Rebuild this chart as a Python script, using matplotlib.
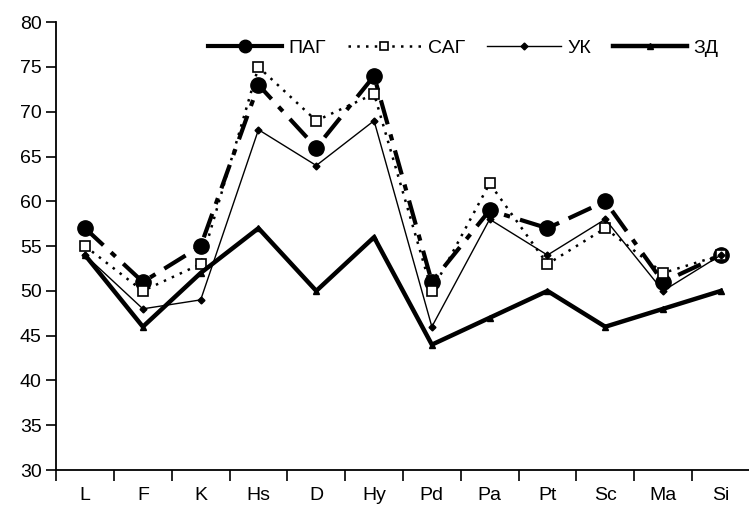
import matplotlib

matplotlib.use("Agg")
import matplotlib.pyplot as plt
import numpy as np
from matplotlib.lines import Line2D

plt.rcParams["font.family"] = ["Liberation Sans", "DejaVu Sans"]

categories = ["L", "F", "K", "Hs", "D", "Hy", "Pd", "Pa", "Pt", "Sc", "Ma", "Si"]
pag = [57, 51, 55, 73, 66, 74, 51, 59, 57, 60, 51, 54]
sag = [55, 50, 53, 75, 69, 72, 50, 62, 53, 57, 52, 54]
uk = [54, 48, 49, 68, 64, 69, 46, 58, 54, 58, 50, 54]
zd = [54, 46, 52, 57, 50, 56, 44, 47, 50, 46, 48, 50]

fig = plt.figure(figsize=(7.49, 5.16), dpi=100)
ax = fig.add_axes([0.075, 0.089, 0.926, 0.868])

x = np.arange(len(categories))
ax.plot(x, pag, color="black", lw=3, ls=(0, (6, 2.5, 1.5, 2.5)), marker="o",
        ms=11)
ax.plot(x, sag, color="black", lw=1.8, ls=(0, (1, 2.5)), marker="s", ms=7,
        mfc="white", mec="black", mew=1.2)
ax.plot(x, uk, color="black", lw=1.0, marker="D", ms=3.5)
ax.plot(x, zd, color="black", lw=3.2, marker="^", ms=4)

# легенда: короткие образцы линий как в оригинале
handles = [
    Line2D([], [], color="black", lw=3, marker="o", ms=9),
    Line2D([], [], color="black", lw=1.8, ls=(0, (1, 2.5)), marker="s", ms=6,
           mfc="white", mew=1.2),
    Line2D([], [], color="black", lw=1.0, marker="D", ms=3.5),
    Line2D([], [], color="black", lw=3.2, marker="^", ms=4),
]
ax.legend(handles, ["ПАГ", "САГ", "УК", "ЗД"], loc="upper right", ncol=4,
          frameon=False, fontsize=14, handlelength=3.8, handletextpad=0.35,
          columnspacing=1.1, bbox_to_anchor=(0.98, 1.0))

ax.set_xlim(-0.5, len(categories) - 0.5)
ax.set_ylim(30, 80)
ax.set_yticks(range(30, 81, 5))
ax.set_xticks(x)
ax.set_xticklabels(categories)
ax.set_xticks(np.arange(-0.5, len(categories), 1), minor=True)
ax.tick_params(axis="x", which="major", length=0, pad=12, labelsize=14)
ax.tick_params(axis="x", which="minor", length=8, width=1.2, direction="out")
ax.tick_params(axis="y", length=7, width=1.2, direction="out", labelsize=14)

for s in ("top", "right"):
    ax.spines[s].set_visible(False)
for s in ("left", "bottom"):
    ax.spines[s].set_linewidth(1.3)

fig.savefig("out.png", dpi=100)
